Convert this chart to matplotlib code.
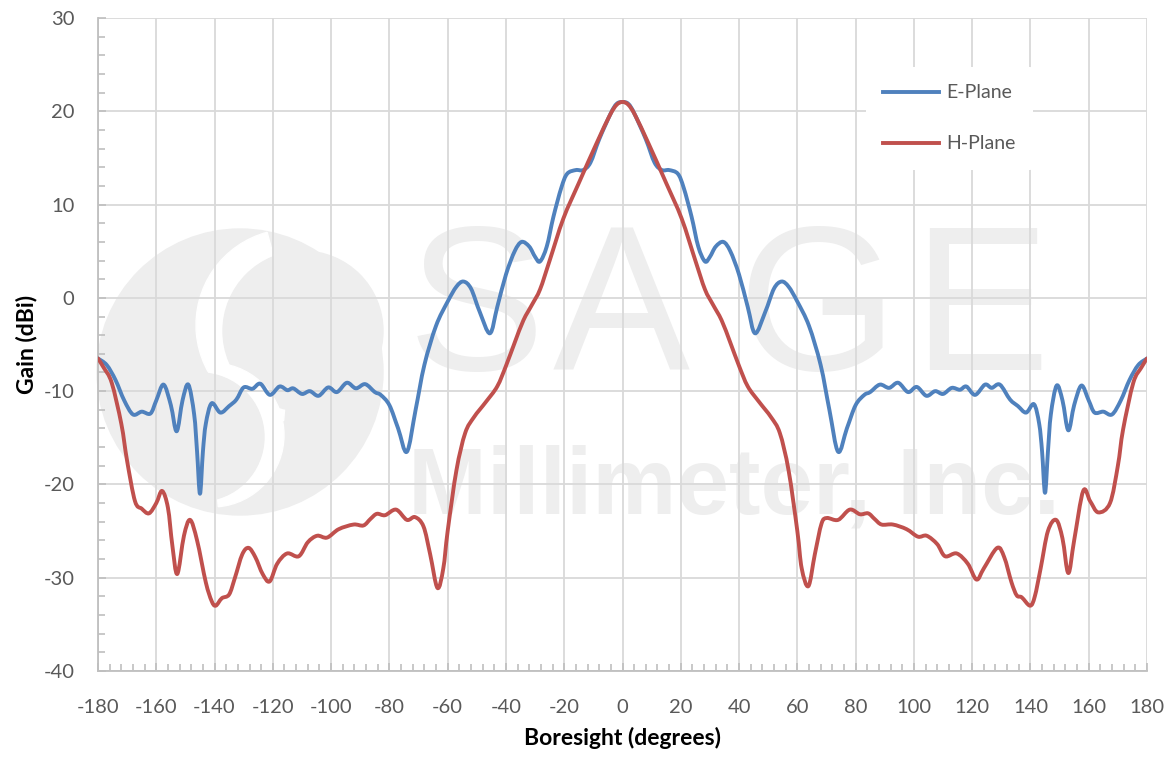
import matplotlib
matplotlib.use("Agg")
import matplotlib.pyplot as plt
from matplotlib.patches import Circle, Wedge, PathPatch
from matplotlib.path import Path
from matplotlib.ticker import MultipleLocator

# Boresight angles (degrees) and gain (dBi)
e_angle = [-180, -177, -174, -171, -168, -165, -162, -160, -157.5, -155, -153, -151,
           -149, -147, -146, -145, -144, -143, -141, -138, -135, -132.5, -130, -127,
           -124.3, -121, -117.7, -115, -113, -110, -107.3, -104.3, -101, -98, -94.6,
           -91.5, -88.3, -85, -83, -80, -77, -74, -71, -68, -64, -60, -57, -54.6, -52,
           -49, -45.5, -43, -40, -37, -34.6, -32, -30, -28.3, -26, -23.7, -21, -19, -16,
           -13.5, -11, -8, -4, -2, 0, 2, 4, 8, 11, 13.5, 16, 19, 21, 23.7, 26, 28.3, 30,
           32, 34.6, 37, 40, 43, 45.5, 49, 52, 54.6, 57, 60, 64, 68, 71, 74, 77, 80, 83,
           85, 88.3, 91.5, 94.6, 98, 101, 104.3, 107.3, 110, 113, 115.8, 118, 121, 124.4,
           126.7, 129.5, 133, 135.7, 138.5, 141.2, 143, 144, 145, 146, 147, 149, 151,
           153, 155, 157.5, 160, 162, 165, 168, 171, 174, 177, 180]
e_gain = [-6.5, -7.2, -8.8, -11.0, -12.5, -12.2, -12.4, -11.0, -9.3, -11.5, -14.3, -11.0,
          -9.3, -12.5, -16.5, -21.0, -16.5, -13.5, -11.3, -12.3, -11.6, -10.9, -9.6, -9.75,
          -9.2, -10.4, -9.5, -9.9, -9.7, -10.3, -10.0, -10.5, -9.6, -10.1, -9.1,
          -9.7, -9.25, -10.1, -10.4, -11.5, -14.0, -16.5, -12.0, -7.2, -3.0, -0.4, 1.2, 1.75, 1.0,
          -1.5, -3.8, -1.0, 2.5, 5.0, 6.0, 5.5, 4.4, 3.9, 5.5, 8.7, 11.8, 13.3, 13.7,
          13.7, 14.5, 17.0, 19.8, 20.8, 21.0, 20.8, 19.8, 17.0, 14.5, 13.7, 13.7, 13.3, 11.8, 8.7, 5.5, 3.9, 4.4,
          5.5, 6.0, 5.0, 2.5, -1.0, -3.8, -1.5, 1.0, 1.75, 1.2, -0.4, -3.0, -7.2, -12.0, -16.5, -14.0, -11.5, -10.4,
          -10.1, -9.3, -9.65, -9.1, -10.1, -9.55, -10.5, -10.0, -10.3, -9.65, -9.85, -9.5, -10.4, -9.3,
          -9.65, -9.3, -10.9, -11.6, -12.3, -11.4, -13.5, -16.5, -20.9, -16.5, -12.5, -9.4, -11.0,
          -14.2, -11.5, -9.4, -11.0, -12.3, -12.2, -12.5, -11.0, -8.8, -7.2, -6.5]

h_angle = [-180, -178, -175.3, -172, -170, -167.3, -165, -162.5, -160, -158, -156, -154.5,
           -152.8, -150.5, -148.4, -146, -143, -141, -139.6, -137.5, -135, -133, -130.5,
           -128.3, -126, -123.5, -121.1, -118.5, -115.1, -111.1, -108, -104.8, -101.4,
           -97.4, -92.3, -88.9, -86.5, -84.3, -81.5, -77.7, -74, -71.2, -68.3, -66, -63.5,
           -61.5, -60, -57, -54, -51, -47, -43, -40, -37, -34, -31, -28.3, -25, -20.3, -15,
           -9, -4.3, -2, 0, 2, 4.3, 9, 15, 20.3, 25, 28.3, 31, 34, 37, 40, 43, 47, 51, 54,
           57, 60, 61.5, 63.8, 66, 68.3, 70.1, 74, 78, 81.5, 84.3, 86.5, 88.9, 92.8, 97.5,
           101.4, 104.4, 108, 110.7, 114.7, 118.5, 121.5, 124, 128.6, 131, 133.5, 135.3, 137,
           139.9, 141.5, 143.5, 146, 148.8, 151, 153, 155, 158.1, 160.5, 163.3, 167.3, 170,
           171.8, 175.3, 178, 180]
h_gain = [-6.5, -7.5, -9.1, -13.5, -17.5, -21.8, -22.6, -23.1, -22.0, -20.7, -22.5, -26.5,
          -29.6, -25.5, -23.8, -26.0, -30.5, -32.5, -33.0, -32.2, -31.8, -30.0, -27.5,
          -26.8, -27.8, -29.6, -30.4, -28.5, -27.4, -27.7, -26.2, -25.5, -25.7,
          -24.8, -24.3, -24.4, -23.7, -23.15, -23.3, -22.7, -23.8, -23.5, -24.5, -27.5, -31.1,
          -29.0, -25.0, -18.5, -14.5, -12.8, -11.2, -9.5, -7.3, -4.8, -2.4, -0.7, 0.9, 4.0, 8.5, 12.3,
          16.5, 19.6, 20.7, 21.0, 20.7, 19.6, 16.5, 12.3, 8.5, 4.0, 0.9, -0.7, -2.4, -4.8, -7.3, -9.5, -11.2, -12.8, -14.5,
          -18.5, -25.0, -29.0, -30.9, -27.5, -24.2, -23.6, -23.8, -22.7, -23.2, -23.1, -23.7, -24.3, -24.3, -24.8,
          -25.6, -25.5, -26.4, -27.7, -27.4, -28.5, -30.2, -29.0, -26.8, -27.8, -30.5, -31.9, -32.1,
          -33.0, -32.0, -29.0, -25.0, -23.8, -25.8, -29.5, -26.0, -20.7, -21.8, -23.0, -22.0, -18.0,
          -14.1, -9.1, -7.5, -6.5]

series_names = ["E-Plane", "H-Plane"]
series_colors = ["#4F81BD", "#C0504D"]


# smoothed line like Excel's: Catmull-Rom segments turned into Bezier curves
def smooth_path(xs, ys):
    pts = list(zip(xs, ys))
    verts = [pts[0]]
    codes = [Path.MOVETO]
    for i in range(len(pts) - 1):
        p0 = pts[max(i - 1, 0)]
        p1 = pts[i]
        p2 = pts[i + 1]
        p3 = pts[min(i + 2, len(pts) - 1)]
        c1 = (p1[0] + (p2[0] - p0[0]) / 6, p1[1] + (p2[1] - p0[1]) / 6)
        c2 = (p2[0] - (p3[0] - p1[0]) / 6, p2[1] - (p3[1] - p1[1]) / 6)
        verts += [c1, c2, p2]
        codes += [Path.CURVE4] * 3
    return Path(verts, codes)


plt.rcParams["font.family"] = ["Lato", "DejaVu Sans"]
plt.rcParams["axes.unicode_minus"] = False

fig = plt.figure(figsize=(11.7, 7.58), dpi=100)

# light watermark (logo + company name) behind the chart
wm = "#EEEEEE"
logo = fig.add_axes([0, 0, 1, 1], zorder=-1)
logo.set_xlim(0, 1170)
logo.set_ylim(758, 0)
logo.axis("off")
logo.add_patch(Circle((240, 372), 143, color=wm))
logo.add_patch(Wedge((292, 325), 96, 95, 255, color="white"))
logo.add_patch(Circle((303, 331), 80, color=wm))
logo.add_patch(Wedge((212, 435), 72, -85, 85, color="white"))
logo.add_patch(Circle((200, 437), 64, color=wm))
for letter, lx in zip("SAGE", [408, 553, 738, 912]):
    logo.text(lx, 370, letter, fontsize=148, color=wm, ha="left", va="baseline",
              family="Liberation Sans")
logo.text(408, 514, "Millimeter, Inc.", fontsize=68, color=wm, ha="left",
          va="baseline", family="Liberation Sans", weight="bold")

ax = fig.add_axes([98 / 1170, 1 - 671 / 758, (1147 - 98) / 1170, (671 - 18) / 758])
ax.patch.set_alpha(0)

for ang, gain, name, col in zip([e_angle, h_angle], [e_gain, h_gain], series_names, series_colors):
    ax.add_patch(PathPatch(smooth_path(ang, gain), fill=False, edgecolor=col, lw=2.8,
                           joinstyle="round", capstyle="round", zorder=3))
    ax.plot([], [], color=col, lw=2.8, label=name)

ax.set_xlim(-180, 180)
ax.set_ylim(-40, 30)
ax.xaxis.set_major_locator(MultipleLocator(20))
ax.xaxis.set_minor_locator(MultipleLocator(4))
ax.yaxis.set_major_locator(MultipleLocator(10))
ax.yaxis.set_minor_locator(MultipleLocator(2))
ax.grid(True, which="major", color="#D9D9D9", lw=1.3, zorder=0)
ax.set_axisbelow(True)
for s in ["top", "right"]:
    ax.spines[s].set_visible(False)
for s in ["left", "bottom"]:
    ax.spines[s].set_color("#BFBFBF")
    ax.spines[s].set_linewidth(1.3)
ax.tick_params(which="both", direction="in", color="#BFBFBF", width=1.2,
               labelsize=14.5, labelcolor="#595959")
ax.tick_params(which="major", length=6)
ax.tick_params(which="minor", length=5)
ax.tick_params(axis="x", pad=20)
ax.tick_params(axis="y", pad=17)

ax.set_xlabel("Boresight (degrees)", fontsize=16.5, weight="bold", labelpad=8)
ax.set_ylabel("Gain (dBi)", fontsize=16.5, weight="bold", labelpad=4)

leg = ax.legend(loc="upper right", bbox_to_anchor=(0.901, 0.94), frameon=True,
                fontsize=14, labelcolor="#595959", handlelength=2.85, handletextpad=0.4,
                labelspacing=1.75, borderpad=0.9)
leg.get_frame().set_facecolor("white")
leg.get_frame().set_edgecolor("none")
leg.get_frame().set_alpha(1)

fig.savefig("out.png", dpi=100)
